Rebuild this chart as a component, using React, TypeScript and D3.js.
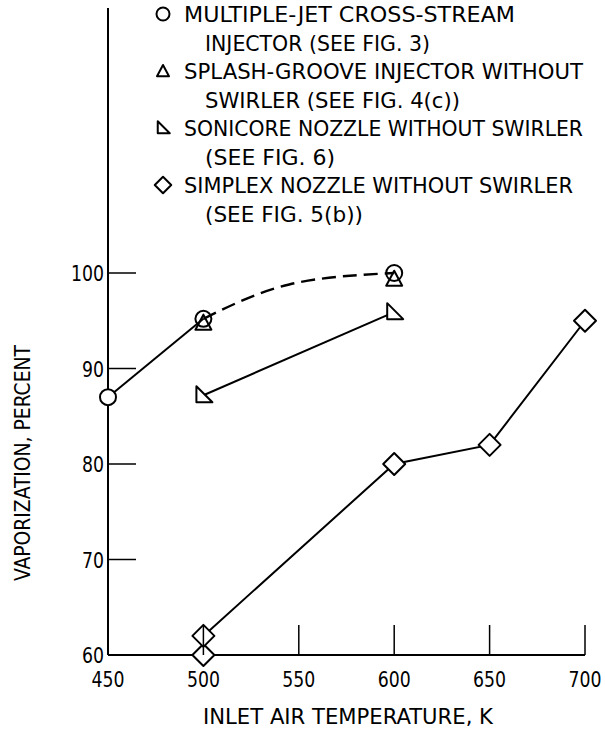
import React, { useEffect, useRef } from 'react';
import * as d3 from 'd3';

// inlet air temperature, K / vaporization, percent
const multiJetTemp = [450, 500, 600];
const multiJetVap = [87, 95.2, 100];
// faired dashed curve through the multiple-jet points above 500 K
const fairedTemp = [500, 545, 600];
const fairedVap = [95.2, 98.8, 100];
const splashTemp = [500, 600];
const splashVap = [94.8, 99.4];
const sonicoreTemp = [500, 600];
const sonicoreVap = [87.2, 95.9];
const simplexTemp = [500, 500, 600, 650, 700];
const simplexVap = [60, 62, 80, 82, 95];

const xTicks = [450, 500, 550, 600, 650, 700];
const yTicks = [60, 70, 80, 90, 100];

const legendLines = [
  { text: 'MULTIPLE-JET CROSS-STREAM', symbol: 'circle', w: 331 },
  { text: 'INJECTOR (SEE FIG. 3)', symbol: null, w: 225 },
  { text: 'SPLASH-GROOVE INJECTOR WITHOUT', symbol: 'triangle', w: 399 },
  { text: 'SWIRLER (SEE FIG. 4(c))', symbol: null, w: 255 },
  { text: 'SONICORE NOZZLE WITHOUT SWIRLER', symbol: 'right', w: 399 },
  { text: '(SEE FIG. 6)', symbol: null, w: 130 },
  { text: 'SIMPLEX NOZZLE WITHOUT SWIRLER', symbol: 'diamond', w: 389 },
  { text: '(SEE FIG. 5(b))', symbol: null, w: 158 },
];

const FONT = "'Liberation Sans Narrow', 'DejaVu Sans Condensed', 'Roboto', sans-serif";

const App = () => {
  const ref = useRef(null);

  useEffect(() => {
    if (!ref.current) return;
    const svg = d3.select(ref.current);
    svg.selectAll('*').remove();

    const x = d3.scaleLinear().domain([450, 700]).range([108, 585]);
    const y = d3.scaleLinear().domain([60, 100]).range([655, 273]);

    const g = svg.append('g');

    // axes frame
    g.append('line')
      .attr('x1', x(450)).attr('x2', x(450))
      .attr('y1', 8).attr('y2', y(60))
      .attr('stroke', '#000').attr('stroke-width', 2);
    g.append('line')
      .attr('x1', x(450)).attr('x2', x(700))
      .attr('y1', y(60)).attr('y2', y(60))
      .attr('stroke', '#000').attr('stroke-width', 2);

    // ticks point inward
    g.selectAll('.ytick')
      .data(yTicks)
      .enter().append('line')
      .attr('x1', x(450)).attr('x2', x(450) + 28)
      .attr('y1', d => y(d)).attr('y2', d => y(d))
      .attr('stroke', '#000').attr('stroke-width', 1.5);
    g.selectAll('.xtick')
      .data(xTicks.slice(1))
      .enter().append('line')
      .attr('x1', d => x(d)).attr('x2', d => x(d))
      .attr('y1', y(60)).attr('y2', y(60) - 30)
      .attr('stroke', '#000').attr('stroke-width', 1.5);

    g.selectAll('.ylab')
      .data(yTicks)
      .enter().append('text')
      .attr('x', x(450) - 4)
      .attr('y', d => y(d) + 8)
      .attr('text-anchor', 'end')
      .attr('textLength', d => (d >= 100 ? 33 : 22))
      .attr('lengthAdjust', 'spacingAndGlyphs')
      .style('font-family', FONT)
      .style('font-size', '22px')
      .text(d => d);
    g.selectAll('.xlab')
      .data(xTicks)
      .enter().append('text')
      .attr('x', d => Math.min(x(d), 586))
      .attr('y', y(60) + 32)
      .attr('text-anchor', 'middle')
      .attr('textLength', 33)
      .attr('lengthAdjust', 'spacingAndGlyphs')
      .style('font-family', FONT)
      .style('font-size', '22px')
      .text(d => d);

    g.append('text')
      .attr('x', 348).attr('y', 724)
      .attr('text-anchor', 'middle')
      .attr('textLength', 290)
      .attr('lengthAdjust', 'spacingAndGlyphs')
      .style('font-family', FONT)
      .style('font-size', '22px')
      .text('INLET AIR TEMPERATURE, K');
    g.append('text')
      .attr('transform', 'translate(30,463) rotate(-90)')
      .attr('text-anchor', 'middle')
      .attr('textLength', 236)
      .attr('lengthAdjust', 'spacingAndGlyphs')
      .style('font-family', FONT)
      .style('font-size', '22px')
      .text('VAPORIZATION, PERCENT');

    // lines
    const line = d3.line<[number, number]>()
      .x(d => x(d[0])).y(d => y(d[1]));
    const zip = (a: number[], b: number[]) => a.map((v, i) => [v, b[i]] as [number, number]);

    g.append('path')
      .attr('d', line(zip(multiJetTemp.slice(0, 2), multiJetVap.slice(0, 2))))
      .attr('fill', 'none').attr('stroke', '#000').attr('stroke-width', 2);
    g.append('path')
      .attr('d', line.curve(d3.curveNatural)(zip(fairedTemp, fairedVap)))
      .attr('fill', 'none').attr('stroke', '#000').attr('stroke-width', 2.4)
      .attr('stroke-dasharray', '14,7');
    line.curve(d3.curveLinear);
    g.append('path')
      .attr('d', line(zip(sonicoreTemp, sonicoreVap)))
      .attr('fill', 'none').attr('stroke', '#000').attr('stroke-width', 2);
    g.append('path')
      .attr('d', line(zip(simplexTemp.slice(1), simplexVap.slice(1))))
      .attr('fill', 'none').attr('stroke', '#000').attr('stroke-width', 2);

    // marker shapes
    const shape = (kind: string, cx: number, cy: number, s = 1) => {
      if (kind === 'triangle')
        return `M${cx},${cy - 8 * s}L${cx + 8 * s},${cy + 7 * s}L${cx - 8 * s},${cy + 7 * s}Z`;
      if (kind === 'right')
        return `M${cx - 7 * s},${cy - 9 * s}L${cx + 9 * s},${cy + 7 * s}L${cx - 7 * s},${cy + 7 * s}Z`;
      return `M${cx},${cy - 11 * s}L${cx + 11 * s},${cy}L${cx},${cy + 11 * s}L${cx - 11 * s},${cy}Z`;
    };

    const drawMarker = (kind: string, cx: number, cy: number, s = 1, fill = '#fff') => {
      if (kind === 'circle') {
        g.append('circle').attr('cx', cx).attr('cy', cy).attr('r', 8 * s)
          .attr('fill', fill).attr('stroke', '#000').attr('stroke-width', 2);
      } else {
        g.append('path').attr('d', shape(kind, cx, cy, s))
          .attr('fill', fill).attr('stroke', '#000').attr('stroke-width', 2)
          .attr('stroke-linejoin', 'round');
      }
    };

    simplexTemp.forEach((t, i) => drawMarker('diamond', x(t), y(simplexVap[i])));
    // tick at 500 K shows through the simplex diamonds
    g.append('line')
      .attr('x1', x(500)).attr('x2', x(500))
      .attr('y1', y(60)).attr('y2', y(60) - 30)
      .attr('stroke', '#000').attr('stroke-width', 1.5);
    sonicoreTemp.forEach((t, i) => drawMarker('right', x(t), y(sonicoreVap[i])));
    splashTemp.forEach((t, i) => drawMarker('triangle', x(t), y(splashVap[i]), 1, 'none'));
    multiJetTemp.forEach((t, i) => drawMarker('circle', x(t), y(multiJetVap[i]), 1, i === 0 ? '#fff' : 'none'));

    // legend
    legendLines.forEach((l, i) => {
      const ly = 22 + i * 28.5;
      if (l.symbol) {
        const cx = 163, cy = ly - 8;
        if (l.symbol === 'circle') {
          g.append('circle').attr('cx', cx).attr('cy', cy).attr('r', 6.5)
            .attr('fill', 'none').attr('stroke', '#000').attr('stroke-width', 2);
        } else {
          g.append('path').attr('d', shape(l.symbol, cx, cy, 0.75))
            .attr('fill', 'none').attr('stroke', '#000').attr('stroke-width', 2)
            .attr('stroke-linejoin', 'round');
        }
      }
      g.append('text')
        .attr('x', l.symbol ? 184 : 205)
        .attr('y', ly)
        .attr('textLength', l.w)
        .attr('lengthAdjust', 'spacingAndGlyphs')
        .style('font-family', FONT)
        .style('font-size', '21px')
        .text(l.text);
    });
  }, []);

  return (
    <svg
      ref={ref}
      width={605}
      height={729}
      style={{ position: 'absolute', left: 0, top: 0, background: '#fff' }}
    />
  );
};

export default App;
